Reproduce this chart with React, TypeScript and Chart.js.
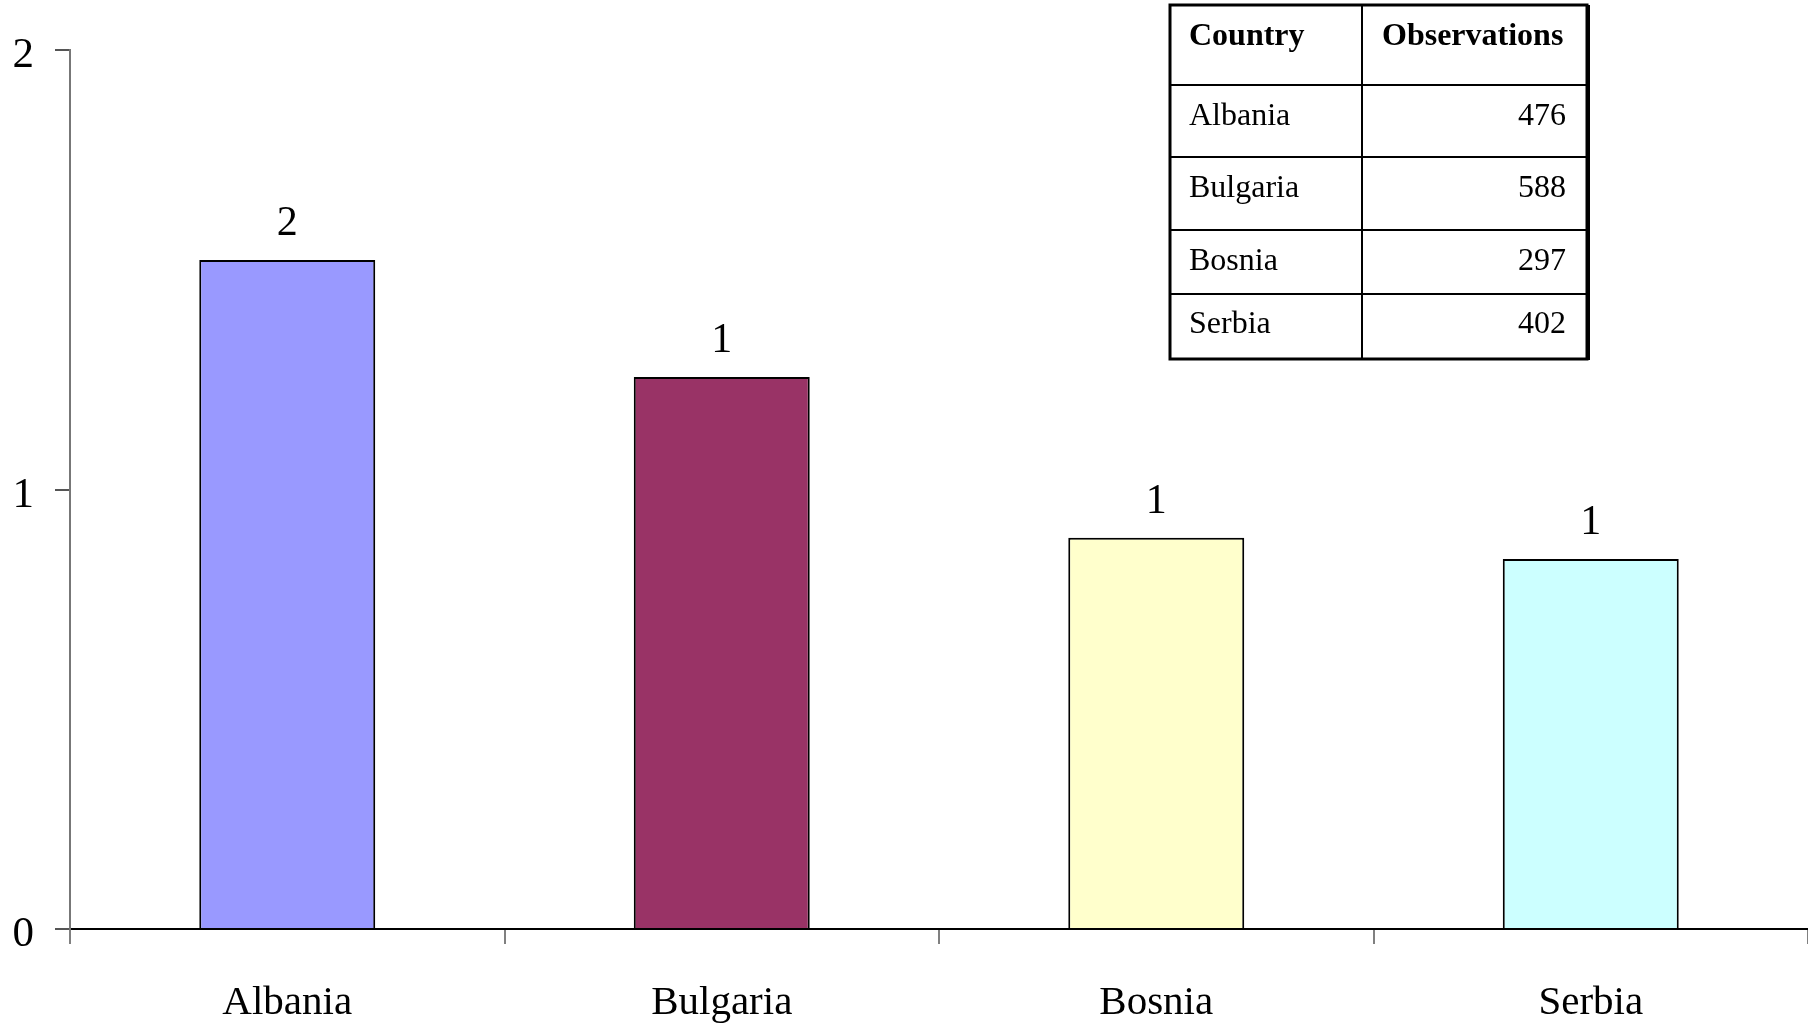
import React, { useEffect, useRef } from "react";
import { Chart, registerables } from "chart.js";

Chart.register(...registerables);

const categories = ["Albania", "Bulgaria", "Bosnia", "Serbia"];
const values = [1.522, 1.256, 0.89, 0.842];
const barColors = ["#9999FF", "#993366", "#FFFFCC", "#CCFFFF"];
const yTickValues = [0, 1, 2];
const tableHeader = ["Country", "Observations"];
const observations = [476, 588, 297, 402];

const FONT = "'Liberation Serif', 'Times New Roman', serif";

const valueLabelPlugin = {
  id: "valueLabels",
  afterDatasetsDraw(chart: any) {
    const ctx = chart.ctx;
    const meta = chart.getDatasetMeta(0);
    ctx.save();
    ctx.font = `42px ${FONT}`;
    ctx.fillStyle = "#000";
    ctx.textAlign = "center";
    ctx.textBaseline = "alphabetic";
    meta.data.forEach((bar: any, i: number) => {
      ctx.fillText(String(Math.round(values[i])), bar.x, bar.y - 25);
    });
    ctx.restore();
  },
};

const yLabelPlugin = {
  id: "yLabels",
  afterDraw(chart: any) {
    const ctx = chart.ctx;
    const y = chart.scales.y;
    ctx.save();
    ctx.font = `43px ${FONT}`;
    ctx.fillStyle = "#000";
    ctx.textAlign = "right";
    ctx.textBaseline = "alphabetic";
    yTickValues.forEach((v) => {
      ctx.fillText(String(v), 34, y.getPixelForValue(v) + 17);
    });
    ctx.restore();
  },
};

const tablePlugin = {
  id: "obsTable",
  afterDraw(chart: any) {
    const ctx = chart.ctx;
    const left = 1170;
    const right = 1587;
    const top = 5;
    const bottom = 359;
    const colX = 1362;
    const rowLines = [85, 157, 230, 294];
    const baselines = [125, 197, 270, 333];
    ctx.save();
    ctx.fillStyle = "#fff";
    ctx.fillRect(left, top, right - left, bottom - top);
    ctx.strokeStyle = "#000";
    ctx.lineWidth = 2;
    rowLines.forEach((yy) => {
      ctx.beginPath();
      ctx.moveTo(left, yy);
      ctx.lineTo(right, yy);
      ctx.stroke();
    });
    ctx.beginPath();
    ctx.moveTo(colX, top);
    ctx.lineTo(colX, bottom);
    ctx.stroke();
    ctx.lineWidth = 3;
    ctx.strokeRect(left, top, right - left, bottom - top);
    ctx.lineWidth = 2;
    ctx.beginPath();
    ctx.moveTo(right + 2, top);
    ctx.lineTo(right + 2, bottom + 1);
    ctx.stroke();

    ctx.fillStyle = "#000";
    ctx.textBaseline = "alphabetic";
    ctx.font = `bold 32px ${FONT}`;
    ctx.textAlign = "left";
    ctx.fillText(tableHeader[0], 1189, 45);
    ctx.fillText(tableHeader[1], 1382, 45);
    ctx.font = `32px ${FONT}`;
    categories.forEach((c, i) => {
      ctx.textAlign = "left";
      ctx.fillText(c, 1189, baselines[i]);
      ctx.textAlign = "right";
      ctx.fillText(String(observations[i]), 1566, baselines[i]);
    });
    ctx.restore();
  },
};

export default function App() {
  const ref = useRef<HTMLCanvasElement>(null);
  useEffect(() => {
    if (!ref.current) return;
    const chart = new Chart(ref.current, {
      type: "bar",
      data: {
        labels: categories,
        datasets: [
          {
            data: values,
            backgroundColor: barColors,
            borderColor: "#000",
            borderWidth: 2,
            barPercentage: 0.405,
            categoryPercentage: 1,
          },
        ],
      },
      options: {
        animation: false,
        responsive: false,
        devicePixelRatio: 1,
        layout: { padding: { top: 50, left: 0, right: -4, bottom: 0 } },
        plugins: { legend: { display: false }, tooltip: { enabled: false } },
        scales: {
          x: {
            grid: {
              offset: true,
              drawOnChartArea: false,
              tickLength: 15,
              color: "#808080",
              lineWidth: 2,
            },
            border: { color: "#000", width: 2 },
            ticks: {
              color: "#000",
              font: { family: FONT, size: 41 },
              padding: 35,
              maxRotation: 0,
            },
            afterFit: (s: any) => {
              s.height = 96;
            },
          },
          y: {
            min: 0,
            max: 2,
            afterBuildTicks: (s: any) => {
              s.ticks = yTickValues.map((v) => ({ value: v }));
            },
            grid: {
              drawOnChartArea: false,
              tickLength: 15,
              color: "#555",
              lineWidth: 2,
            },
            border: { color: "#777", width: 2 },
            ticks: {
              display: false,
            },
            afterFit: (s: any) => {
              s.width = 70;
            },
          },
        },
      },
      plugins: [valueLabelPlugin, yLabelPlugin, tablePlugin],
    });
    return () => chart.destroy();
  }, []);
  return (
    <div style={{ position: "fixed", left: 0, top: 0, width: 1808, height: 1025, background: "#fff" }}>
      <canvas ref={ref} width={1808} height={1025} style={{ display: "block" }} />
    </div>
  );
}
